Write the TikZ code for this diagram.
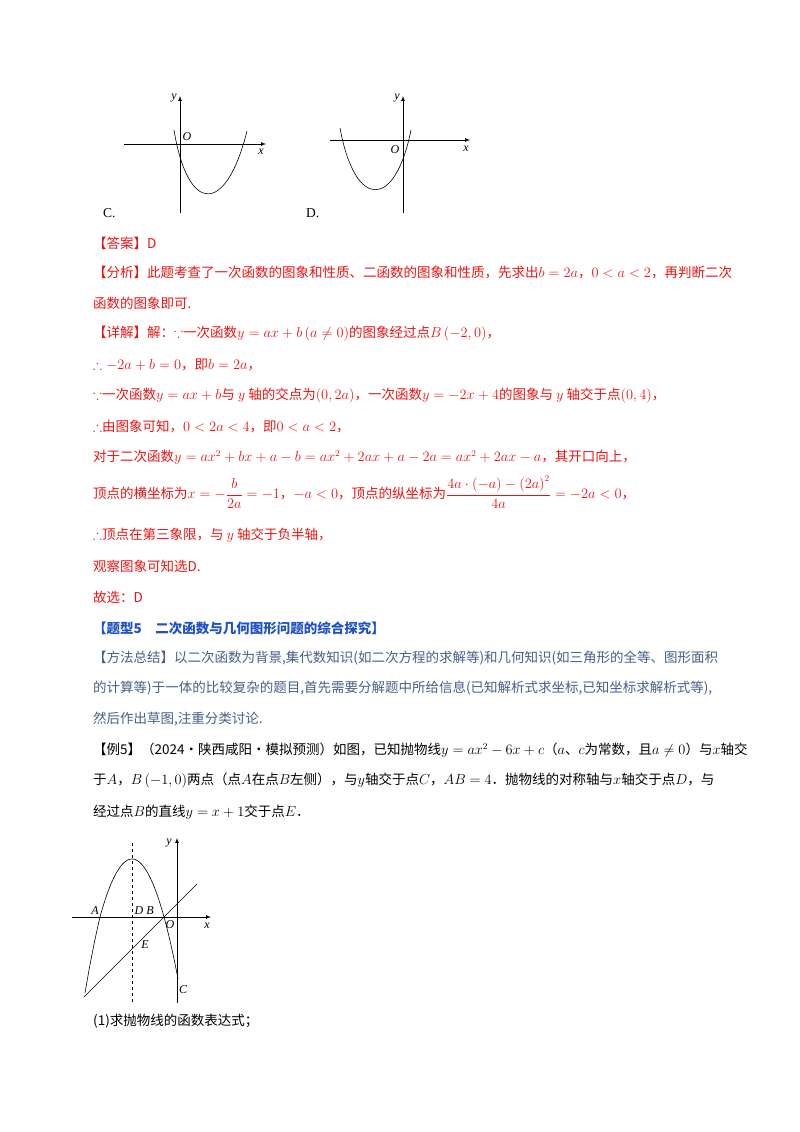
\documentclass[tikz,border=0pt]{standalone}
\usepackage{amsmath,amssymb}
\usepackage{fontspec}
\setmainfont{Liberation Serif}
\newfontfamily\cjk{Noto Sans CJK SC}
\definecolor{ans}{RGB}{235,20,20}
\definecolor{ttl}{RGB}{30,80,200}
\definecolor{msum}{RGB}{70,95,135}
\begin{document}
\begin{tikzpicture}[x=1pt,y=-1pt,
  ln/.style={anchor=west,inner sep=0pt,font=\cjk\fontsize{13.5}{16}\selectfont},
  lbl/.style={inner sep=0pt,font=\fontsize{12}{14}\selectfont\itshape},
  ax/.style={line width=0.7pt,-latex},
  crv/.style={line width=0.6pt}]
\useasboundingbox (0,0) rectangle (800,1132);
% graph C
\draw[ax] (124,144) -- (266,144);
\draw[ax] (180,213) -- (180,96);
\node[lbl] (cy) at (174,98) {y};
\node[lbl] (cx) at (261,152) {x};
\node[lbl] (co) at (187,137) {O};
\coordinate (c1) at (174,130);
\coordinate (c2) at (247,131);
\draw[crv] (c1) .. controls (188,215) and (226,215) .. (c2);
\node[ln] (cl) at (103,213) {\rmfamily C.};
% graph D
\draw[ax] (330,140) -- (470,140);
\draw[ax] (403,213) -- (403,96);
\node[lbl] (dy) at (397,98) {y};
\node[lbl] (dx) at (466,149) {x};
\node[lbl] (do) at (395,150) {O};
\coordinate (d1) at (340,128);
\coordinate (d2) at (411,130);
\draw[crv] (d1) .. controls (355,210) and (395,210) .. (d2);
\node[ln] (dl) at (306,213) {\rmfamily D.};
% answer text
\begin{scope}[every node/.style={ln,text=ans}]
\node (l1) at (93,243) {【答案】D};
\node (l2) at (93,273) {【分析】此题考查了一次函数的图象和性质、二函数的图象和性质，先求出$b=2a$，$0<a<2$，再判断二次};
\node (l3) at (93,303) {函数的图象即可.};
\node (l4) at (93,334) {【详解】解：$\because$一次函数$y=ax+b\left(a\neq0\right)$的图象经过点$B\left(-2,0\right)$，};
\node (l5) at (93,365) {$\therefore-2a+b=0$，即$b=2a$，};
\node (l6) at (93,396) {$\because$一次函数$y=ax+b$与 $y$ 轴的交点为$\left(0,2a\right)$，一次函数$y=-2x+4$的图象与 $y$ 轴交于点$\left(0,4\right)$，};
\node (l7) at (93,427) {$\therefore$由图象可知，$0<2a<4$，即$0<a<2$，};
\node (l8) at (93,457) {对于二次函数$y=ax^2+bx+a-b=ax^2+2ax+a-2a=ax^2+2ax-a$，其开口向上，};
\node (l9) at (93,492) {顶点的横坐标为$x=-\dfrac{b}{2a}=-1$，$-a<0$，顶点的纵坐标为$\dfrac{4a\cdot\left(-a\right)-\left(2a\right)^2}{4a}=-2a<0$，};
\node (l10) at (93,535) {$\therefore$顶点在第三象限，与 $y$ 轴交于负半轴，};
\node (l11) at (93,566) {观察图象可知选D.};
\node (l12) at (93,597) {故选：D};
\end{scope}
\node[ln,text=ttl,font=\cjk\bfseries\fontsize{13.5}{16}\selectfont] (t1) at (93,628) {【题型5\quad 二次函数与几何图形问题的综合探究】};
\begin{scope}[every node/.style={ln,text=msum}]
\node (m1) at (93,658) {【方法总结】以二次函数为背景,集代数知识(如二次方程的求解等)和几何知识(如三角形的全等、图形面积};
\node (m2) at (93,688) {的计算等)于一体的比较复杂的题目,首先需要分解题中所给信息(已知解析式求坐标,已知坐标求解析式等),};
\node (m3) at (93,719) {然后作出草图,注重分类讨论.};
\end{scope}
\node[ln] (e1) at (93,750) {【例5】（2024·陕西咸阳·模拟预测）如图，已知抛物线$y=ax^2-6x+c$（$a$、$c$为常数，且$a\neq0$）与$x$轴交};
\node[ln] (e2) at (93,781) {于$A$，$B\left(-1,0\right)$两点（点$A$在点$B$左侧），与$y$轴交于点$C$，$AB=4$．抛物线的对称轴与$x$轴交于点$D$，与};
\node[ln] (e3) at (93,812) {经过点$B$的直线$y=x+1$交于点$E$．};
% bottom graph
\draw[ax] (72,917) -- (211,917);
\draw[ax] (177,1003) -- (177,838);
\draw[crv,dashed] (132,843) -- (132,1003);
\draw[crv] plot[domain=85:178,samples=80] (\x,{859+0.0566*(\x-132)^2+(\x<100 ? 0.6*(100-\x) : 0)});
\coordinate (p1) at (84,997);
\coordinate (p2) at (197,884);
\draw[crv] (p1) -- (p2);
\node[lbl] (ba) at (95,911) {A};
\node[lbl] (bd) at (139,911) {D};
\node[lbl] (bb) at (150,911) {B};
\node[lbl] (bo) at (170,925) {O};
\node[lbl] (be) at (145,945) {E};
\node[lbl] (bc) at (183,990) {C};
\node[lbl] (by) at (169,843) {y};
\node[lbl] (bx) at (207,926) {x};
\node[ln] (q1) at (93,1021) {(1)求抛物线的函数表达式；};
\end{tikzpicture}
\end{document}
